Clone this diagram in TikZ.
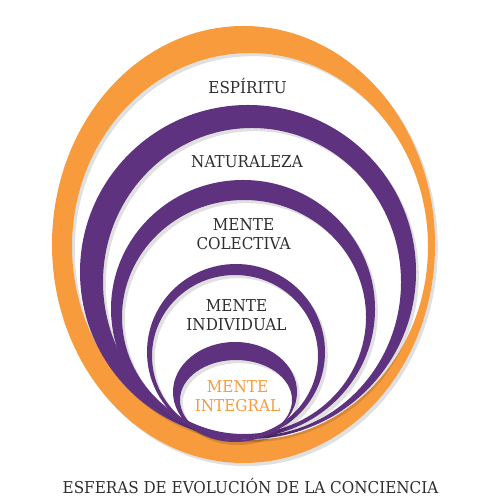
\documentclass[tikz,border=0pt]{standalone}
\usepackage{fontspec}
\setmainfont{DejaVu Serif}[FakeStretch=0.93]
\definecolor{ringpurple}{HTML}{5F3280}
\definecolor{ringorange}{HTML}{F79B3C}
\definecolor{textgray}{HTML}{2E2E2E}
\tikzset{
  ringfill/.style={fill=#1, even odd rule},
  ringshadow/.style={fill=black, fill opacity=0.12, even odd rule, xshift=1.6pt, yshift=-1.8pt},
  ringtext/.style={text=textgray, font=\fontsize{9.3}{11}\selectfont, align=center, inner sep=0pt}
}
\begin{document}
\begin{tikzpicture}
\useasboundingbox (0,0) rectangle (10,10);
% outer orange sphere
\fill[ringshadow] (4.87,5.11) ellipse [x radius=3.83, y radius=4.37] (5.00,5.07) ellipse [x radius=3.56, y radius=3.87];
\fill[ringfill=ringorange] (4.87,5.11) ellipse [x radius=3.83, y radius=4.37] (5.00,5.07) ellipse [x radius=3.56, y radius=3.87];
% naturaleza
\fill[ringshadow] (4.96,4.56) ellipse [x radius=3.36, y radius=3.34] (5.04,4.36) ellipse [x radius=2.98, y radius=3.08];
\fill[ringfill=ringpurple] (4.96,4.56) ellipse [x radius=3.36, y radius=3.34] (5.04,4.36) ellipse [x radius=2.98, y radius=3.08];
% mente colectiva
\fill[ringshadow] (4.86,3.82) ellipse [x radius=2.64, y radius=2.58] (4.88,3.66) ellipse [x radius=2.44, y radius=2.34];
\fill[ringfill=ringpurple] (4.86,3.82) ellipse [x radius=2.64, y radius=2.58] (4.88,3.66) ellipse [x radius=2.44, y radius=2.34];
% mente individual
\fill[ringshadow] (4.72,2.96) ellipse [x radius=1.78, y radius=1.76] (4.70,2.88) ellipse [x radius=1.66, y radius=1.62];
\fill[ringfill=ringpurple] (4.72,2.96) ellipse [x radius=1.78, y radius=1.76] (4.70,2.88) ellipse [x radius=1.66, y radius=1.62];
% mente integral
\fill[ringshadow] (4.70,2.16) ellipse [x radius=1.24, y radius=1.00] (4.72,2.00) ellipse [x radius=1.12, y radius=0.80];
\fill[ringfill=ringpurple] (4.70,2.16) ellipse [x radius=1.24, y radius=1.00] (4.72,2.00) ellipse [x radius=1.12, y radius=0.80];
% labels
\node[ringtext] (espiritu) at (4.95,8.27) {ESPÍRITU};
\node[ringtext] (naturaleza) at (4.94,6.77) {NATURALEZA};
\node[ringtext] (colectiva) at (4.87,5.32) {MENTE\\COLECTIVA};
\node[ringtext] (individual) at (4.73,3.70) {MENTE\\INDIVIDUAL};
\node[ringtext, text=ringorange] (integral) at (4.75,2.08) {MENTE\\INTEGRAL};
\node[ringtext] (titulo) at (5.01,0.28) {ESFERAS DE EVOLUCIÓN DE LA CONCIENCIA};
\end{tikzpicture}
\end{document}
